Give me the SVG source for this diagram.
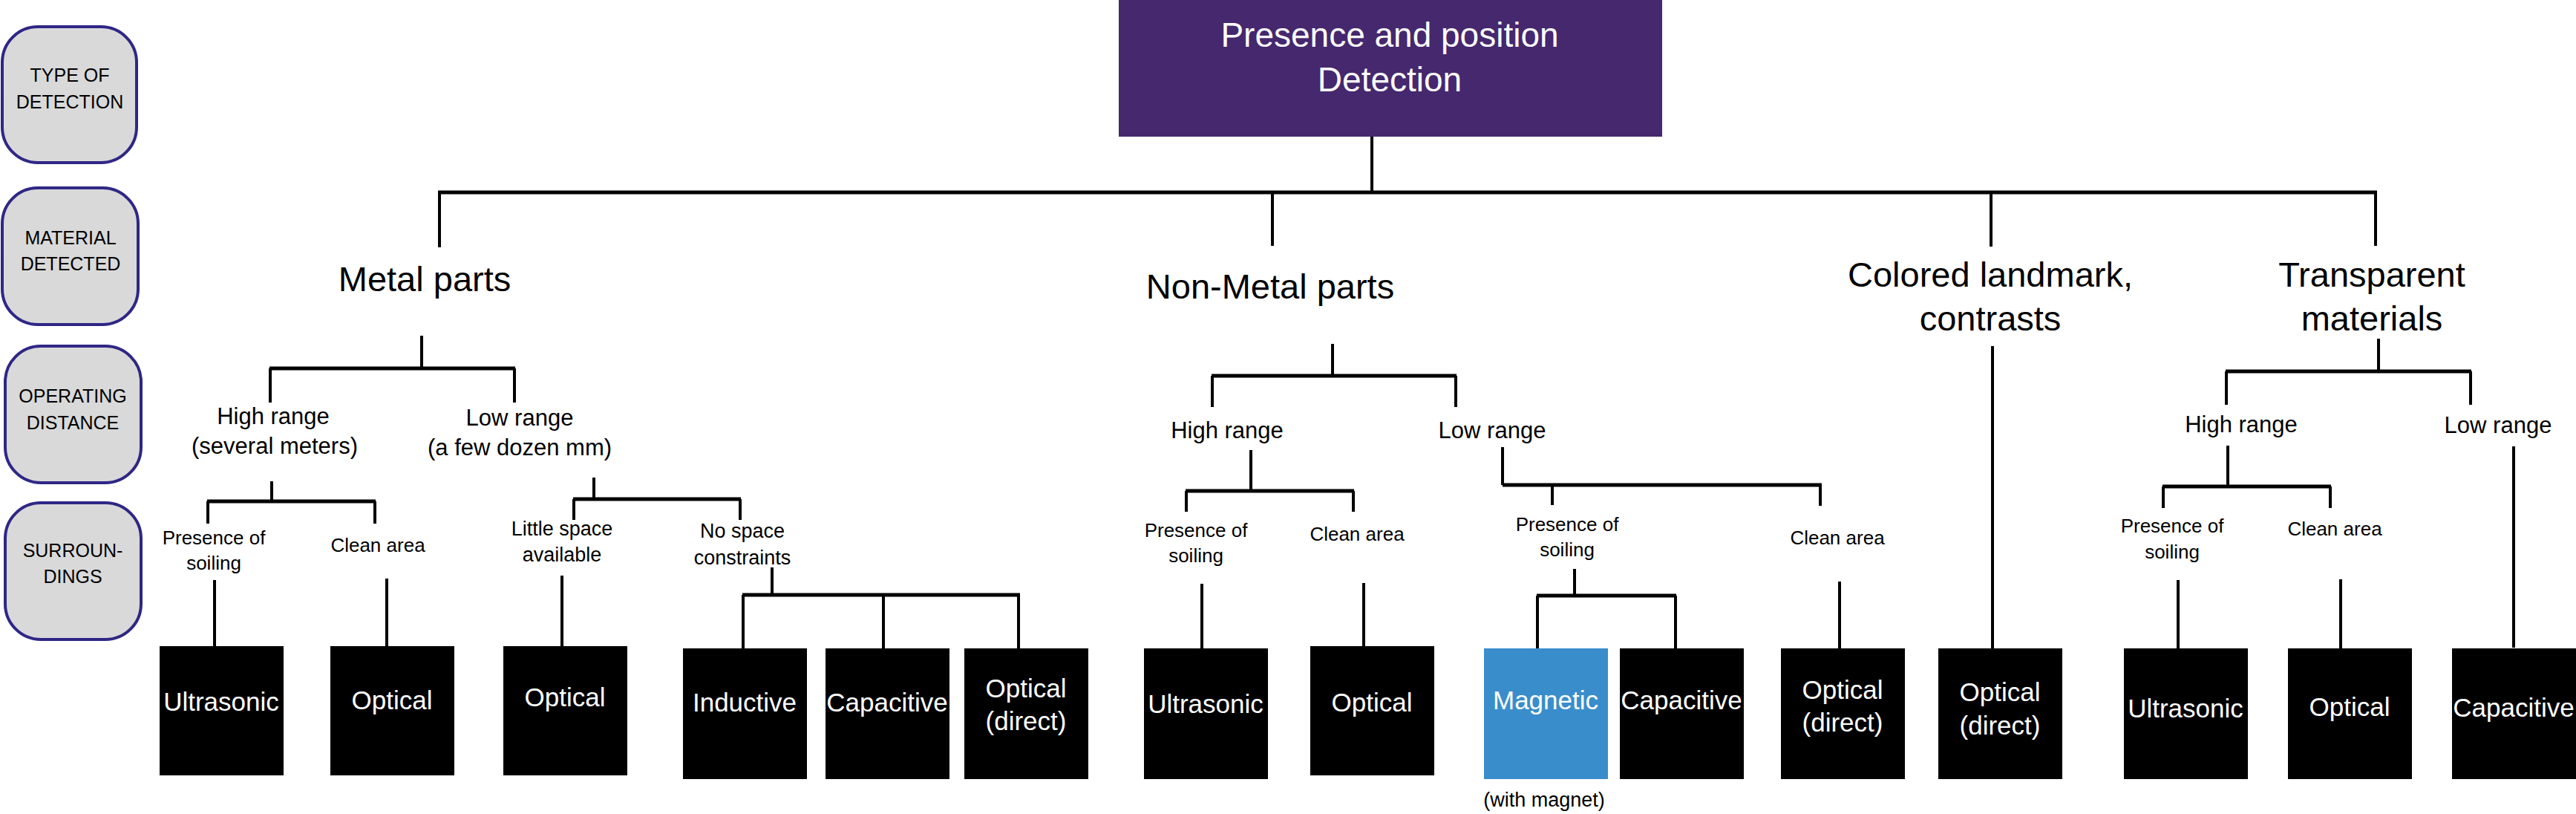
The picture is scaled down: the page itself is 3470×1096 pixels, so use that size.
<svg xmlns="http://www.w3.org/2000/svg" width="3470" height="1096" viewBox="0 0 3470 1096">
<style>
text{font-family:"Liberation Sans",Arial,sans-serif;text-anchor:middle;fill:#000}
.lab{fill:#d9d9d9;stroke:#2f2785;stroke-width:4}
.labt{font-size:25px}
.l2{font-size:47px}
.l3{font-size:31px}
.l4{font-size:26px}
.l4b{font-size:27px}
.box{fill:#000}
.boxt{font-size:35px;fill:#fff}
.conn path{fill:none;stroke:#000;stroke-width:4}
.conn path.bar{stroke-width:5}
</style>
<rect width="3470" height="1096" fill="#fff"/>

<g id="legend">
<g id="lab-type"><rect class="lab" x="3" y="36" width="181" height="183" rx="48"/><text class="labt" x="94" y="110">TYPE OF</text><text class="labt" x="94" y="146">DETECTION</text></g>
<g id="lab-material"><rect class="lab" x="3" y="253" width="183" height="184" rx="48"/><text class="labt" x="95" y="329">MATERIAL</text><text class="labt" x="95" y="364">DETECTED</text></g>
<g id="lab-distance"><rect class="lab" x="7" y="466" width="183" height="184" rx="48"/><text class="labt" x="98" y="542">OPERATING</text><text class="labt" x="98" y="578">DISTANCE</text></g>
<g id="lab-surr"><rect class="lab" x="7" y="677" width="183" height="184" rx="48"/><text class="labt" x="98" y="750">SURROUN-</text><text class="labt" x="98" y="785">DINGS</text></g>
</g>

<g class="conn" id="connectors">
<path d="M1848 184V259"/>
<path class="bar" d="M590 259H3202"/>
<path d="M592 259V333M1714 259V331M2682 259V332M3200 259V331"/>
<!-- metal -->
<path d="M568 452V496"/>
<path class="bar" d="M363 496H694"/>
<path d="M364 496V542M693 496V542"/>
<path d="M366 648V675"/>
<path class="bar" d="M279 675H506"/>
<path d="M280 675V705M505 675V705"/>
<path d="M289 781V870M521 779V870"/>
<path d="M800 643V672"/>
<path class="bar" d="M772 672H998"/>
<path d="M773 672V700M997 672V700"/>
<path d="M757 775V870"/>
<path d="M1040 764V801"/>
<path class="bar" d="M1000 801H1374"/>
<path d="M1001 801V873M1190 801V873M1372 801V873"/>
<!-- non-metal -->
<path d="M1795 463V506"/>
<path class="bar" d="M1632 506H1962"/>
<path d="M1633 506V548M1961 506V548"/>
<path d="M1685 606V661"/>
<path class="bar" d="M1597 661H1824"/>
<path d="M1598 661V689M1823 661V689"/>
<path d="M1619 786V873M1837 785V870"/>
<path d="M2024 602V653"/>
<path class="bar" d="M2024 653H2454"/>
<path d="M2452 653V681M2091 653V680"/>
<path d="M2121 766V802"/>
<path class="bar" d="M2070 802H2258"/>
<path d="M2071 802V873M2257 802V873"/>
<path d="M2478 783V873"/>
<!-- colored -->
<path d="M2684 466V873"/>
<!-- transparent -->
<path d="M3204 456V500"/>
<path class="bar" d="M2998 500H3329"/>
<path d="M2999 500V545M3328 500V545"/>
<path d="M3001 600V655"/>
<path class="bar" d="M2913 655H3140"/>
<path d="M2914 655V684M3139 655V684"/>
<path d="M2934 781V873M3153 780V873"/>
<path d="M3386 601V872"/>
</g>

<g id="root"><rect x="1507" y="0" width="732" height="184" fill="#45286e"/><text x="1872" y="63" font-size="46" fill="#fff" style="fill:#fff">Presence and position</text><text x="1872" y="123" font-size="46" style="fill:#fff">Detection</text></g>

<g id="metal"><text class="l2" x="572" y="392">Metal parts</text></g>
<g id="nonmetal"><text class="l2" x="1711" y="402">Non-Metal parts</text></g>
<g id="colored"><text class="l2" x="2681" y="386">Colored landmark,</text><text class="l2" x="2681" y="445">contrasts</text></g>
<g id="transparent"><text class="l2" x="3195" y="386">Transparent</text><text class="l2" x="3195" y="445">materials</text></g>

<g id="m-high"><text class="l3" x="368" y="571">High range</text><text class="l3" x="370" y="611">(several meters)</text></g>
<g id="m-low"><text class="l3" x="700" y="573">Low range</text><text class="l3" x="700" y="613">(a few dozen mm)</text></g>
<g id="nm-high"><text class="l3" x="1653" y="590">High range</text></g>
<g id="nm-low"><text class="l3" x="2010" y="590">Low range</text></g>
<g id="t-high"><text class="l3" x="3019" y="582">High range</text></g>
<g id="t-low"><text class="l3" x="3365" y="583">Low range</text></g>

<g id="m-h-soil"><text class="l4" x="288" y="733">Presence of</text><text class="l4" x="288" y="767">soiling</text></g>
<g id="m-h-clean"><text class="l4" x="509" y="743">Clean area</text></g>
<g id="m-l-little"><text class="l4b" x="757" y="721">Little space</text><text class="l4b" x="757" y="756">available</text></g>
<g id="m-l-nospace"><text class="l4b" x="1000" y="724">No space</text><text class="l4b" x="1000" y="760">constraints</text></g>
<g id="nm-h-soil"><text class="l4" x="1611" y="723">Presence of</text><text class="l4" x="1611" y="757">soiling</text></g>
<g id="nm-h-clean"><text class="l4" x="1828" y="728">Clean area</text></g>
<g id="nm-l-soil"><text class="l4" x="2111" y="715">Presence of</text><text class="l4" x="2111" y="749">soiling</text></g>
<g id="nm-l-clean"><text class="l4" x="2475" y="733">Clean area</text></g>
<g id="t-h-soil"><text class="l4" x="2926" y="717">Presence of</text><text class="l4" x="2926" y="752">soiling</text></g>
<g id="t-h-clean"><text class="l4" x="3145" y="721">Clean area</text></g>

<g id="b1"><rect class="box" x="215" y="870" width="167" height="174"/><text class="boxt" x="298" y="957">Ultrasonic</text></g>
<g id="b2"><rect class="box" x="445" y="870" width="167" height="174"/><text class="boxt" x="528" y="955">Optical</text></g>
<g id="b3"><rect class="box" x="678" y="870" width="167" height="174"/><text class="boxt" x="761" y="951">Optical</text></g>
<g id="b4"><rect class="box" x="920" y="873" width="167" height="176"/><text class="boxt" x="1003" y="958">Inductive</text></g>
<g id="b5"><rect class="box" x="1112" y="873" width="167" height="176"/><text class="boxt" x="1195" y="958">Capacitive</text></g>
<g id="b6"><rect class="box" x="1299" y="873" width="167" height="176"/><text class="boxt" x="1382" y="939">Optical</text><text class="boxt" x="1382" y="983">(direct)</text></g>
<g id="b7"><rect class="box" x="1541" y="873" width="167" height="176"/><text class="boxt" x="1624" y="960">Ultrasonic</text></g>
<g id="b8"><rect class="box" x="1765" y="870" width="167" height="174"/><text class="boxt" x="1848" y="958">Optical</text></g>
<g id="b9"><rect x="1999" y="873" width="167" height="176" fill="#3a8dcb"/><text class="boxt" x="2082" y="955">Magnetic</text><text class="l4b" x="2080" y="1086">(with magnet)</text></g>
<g id="b10"><rect class="box" x="2182" y="873" width="167" height="176"/><text class="boxt" x="2265" y="955">Capacitive</text></g>
<g id="b11"><rect class="box" x="2399" y="873" width="167" height="176"/><text class="boxt" x="2482" y="941">Optical</text><text class="boxt" x="2482" y="985">(direct)</text></g>
<g id="b12"><rect class="box" x="2611" y="873" width="167" height="176"/><text class="boxt" x="2694" y="944">Optical</text><text class="boxt" x="2694" y="989">(direct)</text></g>
<g id="b13"><rect class="box" x="2861" y="873" width="167" height="176"/><text class="boxt" x="2944" y="966">Ultrasonic</text></g>
<g id="b14"><rect class="box" x="3082" y="873" width="167" height="176"/><text class="boxt" x="3165" y="964">Optical</text></g>
<g id="b15"><rect class="box" x="3303" y="873" width="167" height="176"/><text class="boxt" x="3386" y="965">Capacitive</text></g>
</svg>
